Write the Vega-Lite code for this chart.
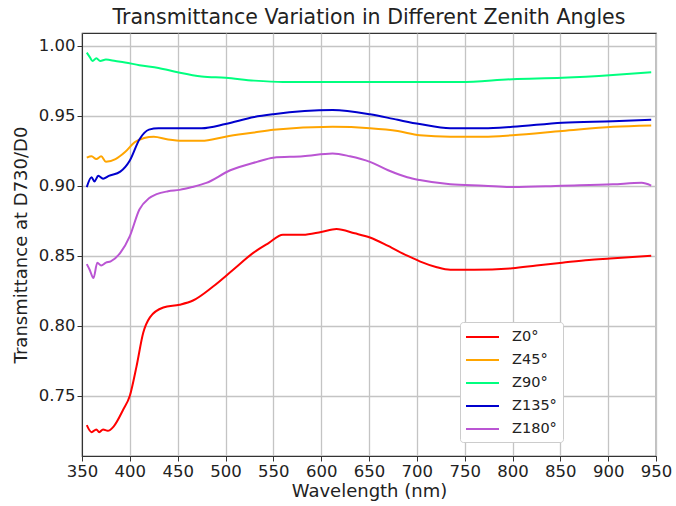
{
  "$schema": "https://vega.github.io/schema/vega-lite/v6.json",
  "autosize": "none",
  "width": 574,
  "height": 423,
  "padding": {"left": 82, "top": 33, "right": 20, "bottom": 50},
  "background": "white",
  "title": {"text": "Transmittance Variation in Different Zenith Angles", "font": "DejaVu Sans", "fontSize": 20.5, "fontWeight": "normal", "color": "#222", "offset": 5},
  "config": {
    "view": {"stroke": "#333", "strokeWidth": 1.2},
    "font": "DejaVu Sans",
    "axis": {"labelFont": "DejaVu Sans", "titleFont": "DejaVu Sans", "labelFontSize": 16.5, "titleFontSize": 18, "titleFontWeight": "normal", "labelColor": "#222", "titleColor": "#222", "domainColor": "#333", "tickColor": "#333", "tickSize": 5, "labelPadding": 2, "gridColor": "#c4c4c4", "gridWidth": 1.3, "labelOverlap": false, "labelFlush": false}
  },
  "data": {"values": [
    {"wl":355,"s":"Z0°","t":0.729},{"wl":360,"s":"Z0°","t":0.724},{"wl":365,"s":"Z0°","t":0.726},{"wl":368,"s":"Z0°","t":0.724},{"wl":372,"s":"Z0°","t":0.726},{"wl":377,"s":"Z0°","t":0.725},{"wl":383,"s":"Z0°","t":0.728},{"wl":393,"s":"Z0°","t":0.740},{"wl":400,"s":"Z0°","t":0.750},{"wl":407,"s":"Z0°","t":0.771},{"wl":414,"s":"Z0°","t":0.795},{"wl":421,"s":"Z0°","t":0.806},{"wl":435,"s":"Z0°","t":0.813},{"wl":452,"s":"Z0°","t":0.815},{"wl":466,"s":"Z0°","t":0.818},{"wl":487,"s":"Z0°","t":0.828},{"wl":508,"s":"Z0°","t":0.840},{"wl":529,"s":"Z0°","t":0.852},{"wl":545,"s":"Z0°","t":0.859},{"wl":560,"s":"Z0°","t":0.865},{"wl":581,"s":"Z0°","t":0.865},{"wl":600,"s":"Z0°","t":0.867},{"wl":616,"s":"Z0°","t":0.869},{"wl":635,"s":"Z0°","t":0.866},{"wl":651,"s":"Z0°","t":0.863},{"wl":670,"s":"Z0°","t":0.857},{"wl":690,"s":"Z0°","t":0.850},{"wl":703,"s":"Z0°","t":0.846},{"wl":720,"s":"Z0°","t":0.842},{"wl":735,"s":"Z0°","t":0.840},{"wl":760,"s":"Z0°","t":0.840},{"wl":800,"s":"Z0°","t":0.841},{"wl":825,"s":"Z0°","t":0.843},{"wl":852,"s":"Z0°","t":0.845},{"wl":880,"s":"Z0°","t":0.847},{"wl":902,"s":"Z0°","t":0.848},{"wl":945,"s":"Z0°","t":0.850},

    {"wl":355,"s":"Z45°","t":0.920},{"wl":360,"s":"Z45°","t":0.921},{"wl":365,"s":"Z45°","t":0.919},{"wl":370,"s":"Z45°","t":0.921},{"wl":375,"s":"Z45°","t":0.917},{"wl":385,"s":"Z45°","t":0.919},{"wl":395,"s":"Z45°","t":0.924},{"wl":405,"s":"Z45°","t":0.931},{"wl":415,"s":"Z45°","t":0.934},{"wl":425,"s":"Z45°","t":0.935},{"wl":440,"s":"Z45°","t":0.933},{"wl":455,"s":"Z45°","t":0.932},{"wl":475,"s":"Z45°","t":0.932},{"wl":500,"s":"Z45°","t":0.935},{"wl":530,"s":"Z45°","t":0.938},{"wl":550,"s":"Z45°","t":0.940},{"wl":612,"s":"Z45°","t":0.942},{"wl":651,"s":"Z45°","t":0.941},{"wl":680,"s":"Z45°","t":0.939},{"wl":703,"s":"Z45°","t":0.936},{"wl":735,"s":"Z45°","t":0.935},{"wl":770,"s":"Z45°","t":0.935},{"wl":800,"s":"Z45°","t":0.936},{"wl":852,"s":"Z45°","t":0.939},{"wl":905,"s":"Z45°","t":0.942},{"wl":945,"s":"Z45°","t":0.943},

    {"wl":355,"s":"Z90°","t":0.995},{"wl":358,"s":"Z90°","t":0.992},{"wl":361,"s":"Z90°","t":0.989},{"wl":365,"s":"Z90°","t":0.991},{"wl":369,"s":"Z90°","t":0.989},{"wl":375,"s":"Z90°","t":0.990},{"wl":385,"s":"Z90°","t":0.989},{"wl":395,"s":"Z90°","t":0.988},{"wl":410,"s":"Z90°","t":0.986},{"wl":430,"s":"Z90°","t":0.984},{"wl":450,"s":"Z90°","t":0.981},{"wl":475,"s":"Z90°","t":0.978},{"wl":500,"s":"Z90°","t":0.977},{"wl":530,"s":"Z90°","t":0.975},{"wl":560,"s":"Z90°","t":0.974},{"wl":620,"s":"Z90°","t":0.974},{"wl":680,"s":"Z90°","t":0.974},{"wl":745,"s":"Z90°","t":0.974},{"wl":800,"s":"Z90°","t":0.976},{"wl":852,"s":"Z90°","t":0.977},{"wl":905,"s":"Z90°","t":0.979},{"wl":945,"s":"Z90°","t":0.981},

    {"wl":355,"s":"Z135°","t":0.899},{"wl":360,"s":"Z135°","t":0.906},{"wl":363,"s":"Z135°","t":0.903},{"wl":367,"s":"Z135°","t":0.907},{"wl":372,"s":"Z135°","t":0.905},{"wl":378,"s":"Z135°","t":0.907},{"wl":390,"s":"Z135°","t":0.910},{"wl":400,"s":"Z135°","t":0.918},{"wl":410,"s":"Z135°","t":0.933},{"wl":420,"s":"Z135°","t":0.940},{"wl":430,"s":"Z135°","t":0.941},{"wl":450,"s":"Z135°","t":0.941},{"wl":475,"s":"Z135°","t":0.941},{"wl":500,"s":"Z135°","t":0.944},{"wl":530,"s":"Z135°","t":0.949},{"wl":550,"s":"Z135°","t":0.951},{"wl":612,"s":"Z135°","t":0.954},{"wl":651,"s":"Z135°","t":0.951},{"wl":680,"s":"Z135°","t":0.947},{"wl":703,"s":"Z135°","t":0.944},{"wl":735,"s":"Z135°","t":0.941},{"wl":770,"s":"Z135°","t":0.941},{"wl":800,"s":"Z135°","t":0.942},{"wl":852,"s":"Z135°","t":0.945},{"wl":905,"s":"Z135°","t":0.946},{"wl":945,"s":"Z135°","t":0.947},

    {"wl":355,"s":"Z180°","t":0.844},{"wl":358,"s":"Z180°","t":0.840},{"wl":362,"s":"Z180°","t":0.834},{"wl":366,"s":"Z180°","t":0.845},{"wl":370,"s":"Z180°","t":0.843},{"wl":375,"s":"Z180°","t":0.845},{"wl":380,"s":"Z180°","t":0.846},{"wl":390,"s":"Z180°","t":0.852},{"wl":400,"s":"Z180°","t":0.864},{"wl":410,"s":"Z180°","t":0.883},{"wl":420,"s":"Z180°","t":0.891},{"wl":428,"s":"Z180°","t":0.894},{"wl":440,"s":"Z180°","t":0.896},{"wl":452,"s":"Z180°","t":0.897},{"wl":465,"s":"Z180°","t":0.899},{"wl":480,"s":"Z180°","t":0.902},{"wl":505,"s":"Z180°","t":0.911},{"wl":533,"s":"Z180°","t":0.917},{"wl":550,"s":"Z180°","t":0.920},{"wl":581,"s":"Z180°","t":0.921},{"wl":612,"s":"Z180°","t":0.923},{"wl":630,"s":"Z180°","t":0.921},{"wl":651,"s":"Z180°","t":0.917},{"wl":670,"s":"Z180°","t":0.911},{"wl":690,"s":"Z180°","t":0.906},{"wl":703,"s":"Z180°","t":0.904},{"wl":735,"s":"Z180°","t":0.901},{"wl":770,"s":"Z180°","t":0.900},{"wl":800,"s":"Z180°","t":0.899},{"wl":852,"s":"Z180°","t":0.900},{"wl":905,"s":"Z180°","t":0.901},{"wl":935,"s":"Z180°","t":0.902},{"wl":945,"s":"Z180°","t":0.900}
  ]},
  "mark": {"type": "line", "strokeWidth": 2, "interpolate": "monotone"},
  "encoding": {
    "x": {"field": "wl", "type": "quantitative", "title": "Wavelength (nm)", "scale": {"domain": [350, 950], "nice": false}, "axis": {"values": [350,400,450,500,550,600,650,700,750,800,850,900,950], "format": "d", "grid": true, "titlePadding": 3}},
    "y": {"field": "t", "type": "quantitative", "title": "Transmittance at D730/D0", "scale": {"domain": [0.707, 1.009], "nice": false, "zero": false}, "axis": {"values": [0.75,0.8,0.85,0.9,0.95,1.0], "format": ".2f", "grid": true, "titlePadding": 8}},
    "color": {"field": "s", "type": "nominal", "title": null,
      "scale": {"domain": ["Z0°","Z45°","Z90°","Z135°","Z180°"], "range": ["#ff0000","#ffa500","#00ff7f","#0000cd","#ba55d3"]},
      "legend": {"orient": "none", "legendX": 378, "legendY": 289, "fillColor": "white", "strokeColor": "#cccccc", "padding": 6, "cornerRadius": 3, "symbolType": "M-1.125,0H3", "symbolSize": 256, "symbolStrokeWidth": 2, "labelFont": "DejaVu Sans", "labelFontSize": 14.5, "labelColor": "#222", "rowPadding": 7, "labelOffset": 28}
    }
  }
}
